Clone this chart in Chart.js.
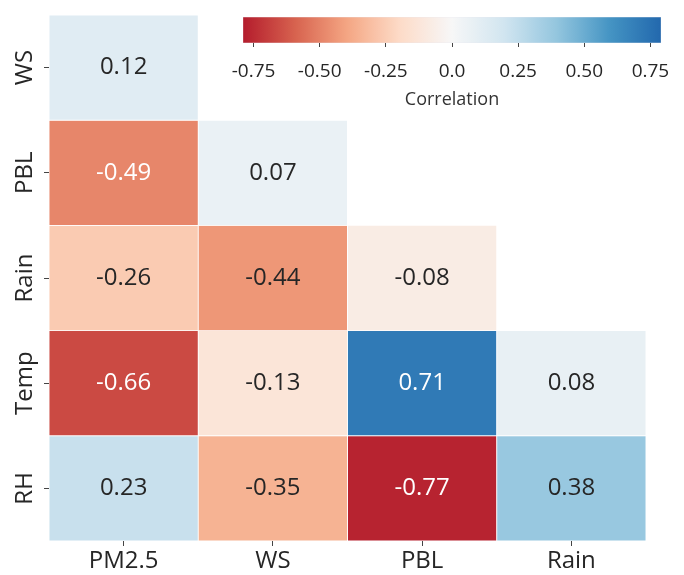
<!DOCTYPE html>
<html>
<head>
<meta charset="utf-8">
<script src="https://cdn.jsdelivr.net/npm/chart.js@4.4.1/dist/chart.umd.min.js"></script>
<style>
  html, body { margin: 0; padding: 0; background: #fff; }
  #wrap { position: relative; width: 684px; height: 575px; }
  #heat { position: absolute; left: 0; top: 0; }
  #cbar { position: absolute; left: 215px; top: 0; }
</style>
</head>
<body>
<div id="wrap">
  <canvas id="heat" width="684" height="575"></canvas>
  <canvas id="cbar" width="469" height="120"></canvas>
</div>
<script>
// --- DATA ---
const columns = ['PM2.5', 'WS', 'PBL', 'Rain'];
const rows = ['WS', 'PBL', 'Rain', 'Temp', 'RH'];
const rowWS = [0.12];
const rowPBL = [-0.49, 0.07];
const rowRain = [-0.26, -0.44, -0.08];
const rowTemp = [-0.66, -0.13, 0.71, 0.08];
const rowRH = [0.23, -0.35, -0.77, 0.38];
const rowValues = [rowWS, rowPBL, rowRain, rowTemp, rowRH];

const cbarTicks = [-0.75, -0.5, -0.25, 0, 0.25, 0.5, 0.75];
const cbarTickLabels = ['-0.75', '-0.50', '-0.25', '0.0', '0.25', '0.50', '0.75'];
const cbarMin = -0.79, cbarMax = 0.79;

// matplotlib RdBu stops
const rdbu = ['#67001f', '#b2182b', '#d6604d', '#f4a582', '#fddbc7', '#f7f7f7',
              '#d1e5f0', '#92c5de', '#4393c3', '#2166ac', '#053061'];

Chart.defaults.font.family = "'Open Sans', sans-serif";
Chart.defaults.color = '#262626';

function hexToRgb(h) {
    return [parseInt(h.slice(1, 3), 16), parseInt(h.slice(3, 5), 16), parseInt(h.slice(5, 7), 16)];
}
function rdbuRgb(t) {
    t = Math.max(0, Math.min(1, t));
    const pos = t * (rdbu.length - 1);
    const i = Math.min(Math.floor(pos), rdbu.length - 2);
    const f = pos - i;
    const a = hexToRgb(rdbu[i]), b = hexToRgb(rdbu[i + 1]);
    return a.map((c, k) => Math.round(c + (b[k] - c) * f));
}
// colour norm is -1..1
function colorFor(v) {
    const c = rdbuRgb((v + 1) / 2);
    return `rgb(${c[0]}, ${c[1]}, ${c[2]})`;
}
function isDark(v) {
    const c = rdbuRgb((v + 1) / 2).map(x => {
        x /= 255;
        return x <= 0.03928 ? x / 12.92 : Math.pow((x + 0.055) / 1.055, 2.4);
    });
    return (0.2126 * c[0] + 0.7152 * c[1] + 0.0722 * c[2]) <= 0.408;
}

// one dataset per row, floating bars [row, row+1] on a reversed linear y axis
const datasets = rowValues.map((vals, r) => ({
    label: rows[r],
    data: columns.map((c, j) => (j < vals.length ? [r, r + 1] : null)),
    values: vals,
    backgroundColor: columns.map((c, j) => (j < vals.length ? colorFor(vals[j]) : 'transparent')),
    borderColor: '#ffffff',
    borderWidth: 0.8,
    borderSkipped: false,
    grouped: false,
    barPercentage: 1,
    categoryPercentage: 1
}));

const cellText = {
    id: 'cellText',
    afterDatasetsDraw(chart) {
        const ctx = chart.ctx;
        ctx.save();
        ctx.font = "24px 'Open Sans', sans-serif";
        ctx.textAlign = 'center';
        ctx.textBaseline = 'middle';
        chart.data.datasets.forEach((ds, i) => {
            chart.getDatasetMeta(i).data.forEach((el, j) => {
                if (j >= ds.values.length) return;
                const v = ds.values[j];
                const p = el.getCenterPoint();
                ctx.fillStyle = isDark(v) ? '#ffffff' : '#262626';
                ctx.fillText(v.toFixed(2), p.x, p.y);
            });
        });
        ctx.restore();
    }
};

const rowLabels = {
    id: 'rowLabels',
    afterDraw(chart) {
        const ctx = chart.ctx;
        const y = chart.scales.y;
        ctx.save();
        ctx.font = "24px 'Open Sans', sans-serif";
        ctx.fillStyle = '#262626';
        ctx.textAlign = 'center';
        ctx.textBaseline = 'middle';
        rows.forEach((name, r) => {
            ctx.save();
            ctx.translate(25, y.getPixelForValue(r + 0.5));
            ctx.rotate(-Math.PI / 2);
            ctx.fillText(name, 0, 0);
            ctx.restore();
        });
        ctx.restore();
    }
};

new Chart(document.getElementById('heat'), {
    type: 'bar',
    data: { labels: columns, datasets: datasets },
    options: {
        responsive: false,
        animation: false,
        layout: { padding: { top: 15, right: 38, left: 0, bottom: 0 } },
        plugins: { legend: { display: false }, tooltip: { enabled: false } },
        scales: {
            x: {
                type: 'category',
                grid: { offset: false, drawOnChartArea: false, drawTicks: true, tickLength: 5, color: '#444' },
                border: { display: false },
                ticks: { font: { size: 24 }, color: '#262626', padding: 1 },
                afterFit: s => { s.height = 34; }
            },
            y: {
                type: 'linear',
                reverse: true,
                min: 0,
                max: rows.length,
                grid: { drawOnChartArea: false, drawTicks: true, tickLength: 5, color: '#444' },
                border: { display: false },
                ticks: { display: false },
                afterBuildTicks: s => { s.ticks = rows.map((n, r) => ({ value: r + 0.5 })); },
                afterFit: s => { s.width = 49; }
            }
        }
    },
    plugins: [cellText, rowLabels]
});

// --- colour bar ---
function cbarGradient(chart) {
    const area = chart.chartArea;
    if (!area) return '#f7f7f7';
    const g = chart.ctx.createLinearGradient(area.left, 0, area.right, 0);
    for (let k = 0; k <= 40; k++) {
        const v = cbarMin + (cbarMax - cbarMin) * k / 40;
        g.addColorStop(k / 40, colorFor(v));
    }
    return g;
}

new Chart(document.getElementById('cbar'), {
    type: 'bar',
    data: {
        labels: [''],
        datasets: [{
            data: [[cbarMin, cbarMax]],
            backgroundColor: ctx => cbarGradient(ctx.chart),
            borderColor: 'rgba(200,200,220,0.6)',
            borderWidth: 0.5,
            borderSkipped: false,
            barPercentage: 1,
            categoryPercentage: 1
        }]
    },
    options: {
        indexAxis: 'y',
        responsive: false,
        animation: false,
        layout: { padding: { top: 17, right: 23, left: 28, bottom: 0 } },
        plugins: { legend: { display: false }, tooltip: { enabled: false } },
        scales: {
            y: { display: false },
            x: {
                type: 'linear',
                min: cbarMin,
                max: cbarMax,
                grid: { drawOnChartArea: false, drawTicks: true, tickLength: 4, color: '#444' },
                border: { display: false },
                ticks: {
                    font: { size: 19 },
                    color: '#262626',
                    padding: 13,
                    maxRotation: 0,
                    callback: (v, i) => cbarTickLabels[i]
                },
                afterBuildTicks: s => { s.ticks = cbarTicks.map(v => ({ value: v })); },
                afterFit: s => { s.height = 77; },
                title: { display: true, text: 'Correlation', font: { size: 18 }, color: '#333', padding: { top: 0, bottom: 9 } }
            }
        }
    }
});
</script>
</body>
</html>
